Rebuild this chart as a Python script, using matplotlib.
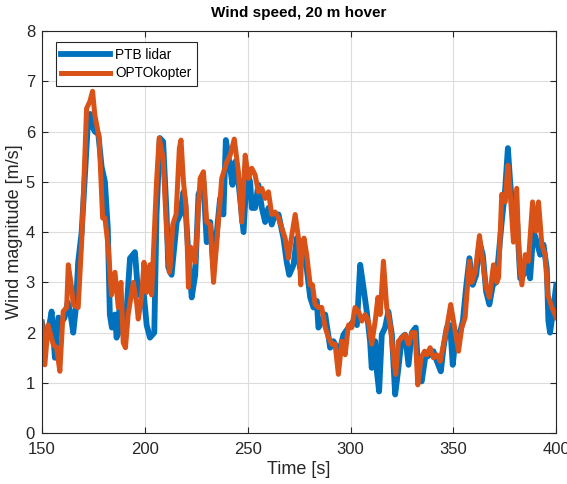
import numpy as np
from matplotlib import pyplot as plt

plt.rcParams['font.family'] = ['Liberation Sans', 'DejaVu Sans']

# PTB lidar (time [s], wind magnitude [m/s])
t_lidar = [150.0, 151.5, 153.0, 154.7, 156.3, 158.0, 159.5, 161.0, 162.5, 163.8,
           165.2, 166.5, 167.6, 169.3, 171.0, 172.5, 173.5, 174.5, 175.7, 177.4,
           179.0, 180.6, 182.0, 183.0, 184.0, 185.5, 186.3, 187.9, 189.5, 191.1,
           192.8, 195.2, 196.8, 199.2, 200.9, 202.5, 204.6, 205.7, 207.3, 208.9,
           210.6, 211.4, 213.0, 215.5, 217.2, 218.8, 219.6, 221.2, 222.8, 224.5,
           226.1, 228.5, 230.1, 231.8, 233.4, 235.0, 236.6, 238.2, 239.4, 241.5,
           242.6, 243.9, 245.5, 248.0, 249.6, 251.2, 252.0, 253.6, 255.2, 256.9,
           258.5, 260.1, 261.7, 263.3, 265.0, 267.4, 269.0, 270.2, 272.3, 273.9,
           275.5, 277.1, 278.7, 280.4, 282.0, 283.6, 284.4, 286.0, 287.7, 290.1,
           291.7, 293.3, 295.0, 296.6, 299.0, 301.4, 303.1, 304.7, 306.3, 307.9,
           309.5, 310.3, 312.0, 312.8, 313.9, 315.2, 316.8, 318.4, 320.1, 321.7,
           323.3, 324.9, 326.5, 328.2, 329.8, 331.7, 333.0, 334.6, 336.3, 338.7,
           340.3, 342.0, 343.9, 345.2, 346.8, 348.4, 349.7, 351.3, 353.0, 354.6,
           356.2, 357.8, 359.4, 361.1, 362.7, 364.3, 365.9, 367.5, 369.2, 370.8,
           373.5, 375.2, 376.5, 377.6, 379.2, 380.8, 382.5, 384.1, 385.7, 387.3,
           388.9, 390.6, 392.2, 393.8, 395.4, 396.2, 397.0, 398.7, 400.0]
v_lidar = [2.2, 1.9, 2.0, 2.42, 1.5, 2.3, 2.2, 2.3, 2.6, 2.4,
           2.0, 2.5, 3.4, 4.0, 5.2, 6.3, 6.35, 6.1, 6.0, 5.95,
           5.3, 5.0, 4.08, 2.36, 2.1, 2.36, 1.9, 2.56, 1.96, 2.42,
           3.48, 3.6, 2.75, 2.9, 2.15, 1.9, 2.0, 4.35, 5.87, 5.8,
           4.35, 3.3, 3.15, 4.2, 4.35, 4.8, 4.6, 3.55, 2.7, 3.15,
           4.75, 5.0, 3.8, 4.2, 3.28, 4.0, 4.67, 4.35, 5.83, 5.28,
           4.94, 5.4, 5.0, 4.0, 5.2, 5.0, 4.48, 4.48, 4.94, 4.48,
           4.2, 4.48, 4.15, 4.35, 4.35, 3.88, 3.4, 3.15, 3.35, 3.88,
           3.28, 3.68, 3.28, 2.7, 2.5, 2.63, 2.1, 2.23, 2.36, 1.7,
           1.83, 1.7, 1.7, 1.96, 2.1, 2.23, 2.15, 3.35, 2.9, 2.42,
           1.83, 1.3, 1.83, 1.23, 0.83, 1.96, 2.1, 2.42, 1.96, 0.77,
           1.3, 1.9, 1.96, 1.36, 2.0, 2.1, 1.17, 1.03, 1.5, 1.56,
           1.63, 1.43, 1.23, 1.7, 2.1, 2.15, 1.36, 2.0, 1.96, 2.23,
           2.9, 3.48, 2.95, 3.15, 3.8, 3.55, 2.82, 2.56, 2.95, 3.0,
           4.2, 4.87, 5.67, 5.0, 4.28, 4.35, 3.08, 3.15, 3.42, 3.08,
           4.02, 3.8, 3.55, 3.75, 3.28, 2.23, 2.0, 2.5, 2.95]

# OPTOkopter
t_opto = [150.0, 151.4, 153.0, 155.5, 157.1, 158.7, 160.3, 162.0, 162.8, 164.4,
          165.2, 167.6, 169.3, 171.7, 173.3, 174.6, 175.7, 177.8, 179.5, 180.6,
          182.2, 183.8, 185.5, 187.1, 188.4, 189.5, 190.6, 191.9, 194.4, 196.0,
          196.8, 198.4, 199.6, 200.9, 202.5, 203.3, 205.7, 207.0, 208.9, 210.6,
          211.9, 212.3, 213.6, 215.2, 216.8, 217.6, 218.8, 220.1, 221.2, 222.3,
          224.5, 226.9, 228.5, 230.1, 231.8, 233.4, 235.0, 237.4, 239.9, 241.5,
          243.5, 245.5, 247.1, 248.8, 250.4, 252.0, 253.6, 255.2, 256.9, 258.5,
          260.1, 261.7, 263.3, 265.0, 266.6, 268.2, 269.8, 271.5, 273.1, 274.7,
          275.8, 276.3, 277.4, 278.7, 280.4, 281.5, 282.8, 284.4, 286.0, 287.7,
          289.3, 290.9, 292.5, 294.1, 295.8, 297.4, 299.0, 300.6, 302.2, 303.9,
          305.5, 307.1, 308.7, 310.3, 312.0, 313.3, 314.4, 316.0, 317.6, 319.3,
          320.9, 322.0, 323.3, 324.9, 326.5, 328.2, 329.8, 331.4, 332.7, 334.3,
          336.0, 337.1, 338.7, 340.3, 342.0, 343.6, 345.2, 346.8, 348.7, 350.4,
          352.5, 354.1, 355.7, 357.8, 358.9, 360.6, 362.7, 364.3, 365.9, 367.5,
          369.5, 371.1, 372.0, 373.5, 375.2, 376.5, 377.6, 379.2, 380.8, 382.0,
          383.3, 384.9, 386.5, 388.5, 390.1, 391.4, 393.0, 394.6, 395.9, 397.9,
          400.0]
v_opto = [2.2, 1.36, 2.15, 1.76, 1.7, 1.23, 2.42, 2.5, 3.35, 2.9,
          2.55, 2.5, 3.8, 6.46, 6.6, 6.8, 6.33, 5.87, 4.28, 4.28,
          3.7, 2.75, 3.2, 2.5, 3.0, 1.8, 1.7, 2.36, 3.0, 2.6,
          2.27, 2.7, 3.4, 2.8, 3.35, 2.75, 5.0, 5.87, 5.47, 4.0,
          3.2, 3.3, 4.15, 4.35, 5.67, 5.83, 5.0, 4.48, 2.9, 3.7,
          3.4, 5.07, 5.2, 4.2, 4.15, 3.0, 3.8, 5.07, 5.4, 5.53,
          5.85, 5.2, 4.2, 5.53, 5.07, 5.27, 5.14, 4.8, 4.87, 4.67,
          4.8, 4.35, 4.4, 4.28, 4.08, 3.88, 3.48, 3.95, 4.35, 3.88,
          2.95, 3.68, 3.88, 3.55, 2.95, 2.95, 2.56, 2.5, 2.5, 2.1,
          1.9, 1.77, 1.77, 1.17, 1.83, 1.56, 2.15, 2.1, 2.5, 2.42,
          2.23, 2.36, 2.23, 1.77, 2.23, 2.7, 2.36, 3.42, 2.5, 2.15,
          1.5, 1.17, 1.83, 1.9, 1.96, 1.77, 2.0, 2.0, 0.96, 1.5,
          1.63, 1.56, 1.7, 1.5, 1.56, 1.43, 1.77, 2.1, 2.56, 2.15,
          1.63, 2.1, 2.3, 3.42, 3.0, 3.2, 3.93, 3.42, 2.9, 2.7,
          3.35, 3.0, 3.1, 4.75, 4.6, 5.33, 4.8, 3.8, 4.87, 3.42,
          2.95, 3.55, 3.42, 4.6, 4.02, 4.6, 3.75, 3.55, 2.75, 2.5,
          2.3]

fig = plt.figure(figsize=(5.67, 4.84), dpi=100)
ax = fig.add_axes([0.074, 0.105, 0.907, 0.831])

ax.plot(t_lidar, v_lidar, color='#0072BD', lw=4.2, label='PTB lidar')
ax.plot(t_opto, v_opto, color='#D95319', lw=3.6, label='OPTOkopter')

ax.set_xlim(150, 400)
ax.set_ylim(0, 8)
ax.set_xticks(np.arange(150, 401, 50))
ax.set_yticks(np.arange(0, 9, 1))
ax.grid(True, color='#dcdcdc', lw=0.8)
ax.set_axisbelow(True)
ax.tick_params(direction='in', labelsize=12, colors='#262626', length=4,
               top=True, right=True, labeltop=False, labelright=False)
ax.tick_params(axis='x', pad=6)
ax.tick_params(axis='y', pad=5)
for s in ax.spines.values():
    s.set_color('#262626')
    s.set_linewidth(0.8)

ax.set_title('Wind speed, 20 m hover', fontsize=11, fontweight='bold', pad=10)
ax.set_xlabel('Time [s]', fontsize=13, color='#262626', labelpad=3)
ax.set_ylabel('Wind magnitude [m/s]', fontsize=13, color='#262626', labelpad=2)

leg = ax.legend(loc='upper left', bbox_to_anchor=(0.027, 0.972), fontsize=9.8,
                fancybox=False, edgecolor='#262626', framealpha=1,
                handlelength=3.6, borderpad=0.4, labelspacing=0.35,
                handletextpad=0.35, borderaxespad=0.0)
leg.get_frame().set_linewidth(0.8)

fig.savefig('out.png', dpi=100)
